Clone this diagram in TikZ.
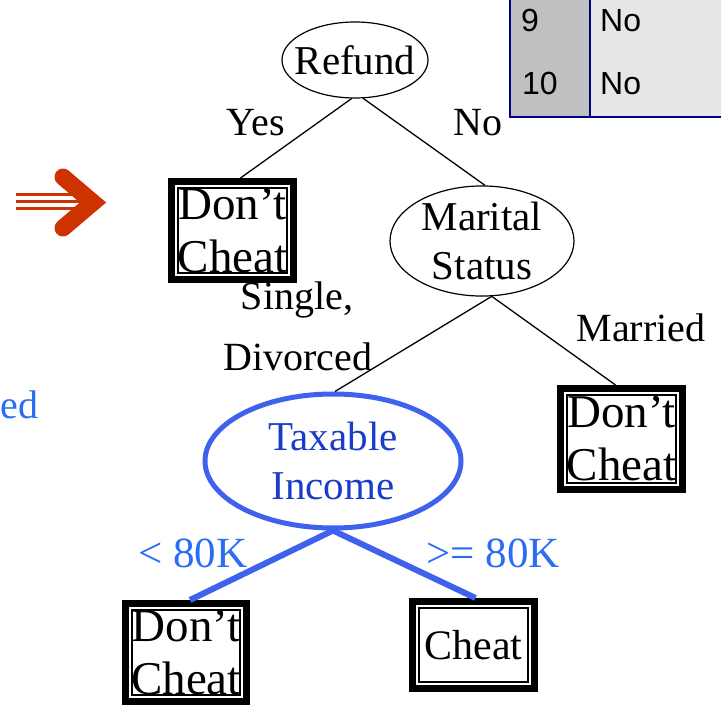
\documentclass[tikz,border=0pt]{standalone}
\usepackage{fontspec}
\setmainfont{Liberation Serif}
\newfontfamily\arialf{Liberation Sans}
\usetikzlibrary{shapes.geometric,calc}
\definecolor{arrowred}{HTML}{CC3300}
\definecolor{ellblue}{HTML}{3F62EE}
\definecolor{txtblue}{HTML}{1A3CC8}
\definecolor{lblblue}{HTML}{2B6CF5}
\definecolor{tabnavy}{HTML}{000080}
\definecolor{tabdark}{HTML}{C0C0C0}
\definecolor{tablight}{HTML}{E6E6E6}
\begin{document}
\begin{tikzpicture}[x=1pt,y=-1pt,
  ell/.style={ellipse, draw, line width=1.2pt, inner sep=0pt, align=center, font=\fontsize{41}{49}\selectfont},
  dbox/.style={rectangle, draw, line width=7pt, inner sep=0pt, align=center, font=\fontsize{47}{53}\selectfont},
  innerline/.style={draw=black, line width=1.2pt},
  lbl/.style={font=\fontsize{40}{48}\selectfont, inner sep=0pt},
  blbl/.style={font=\fontsize{43}{50}\selectfont, inner sep=0pt, text=lblblue},
  conn/.style={line width=1.3pt},
  bconn/.style={line width=6pt, draw=ellblue},
  tabtxt/.style={font=\arialf\fontsize{32}{36}\selectfont, inner sep=0pt, anchor=base west},
]
\useasboundingbox (0,0) rectangle (721,714);
\fill[white] (0,0) rectangle (721,714);

% table fragment
\fill[tabdark] (510,0) rectangle (590,117);
\fill[tablight] (590,0) rectangle (721,117);
\draw[tabnavy, line width=2.5pt] (510,0) -- (510,117) -- (721,117);
\draw[tabnavy, line width=2pt] (590,0) -- (590,117);
\node[tabtxt] (r9) at (521,32) {9};
\node[tabtxt] (r9v) at (600,32) {No};
\node[tabtxt] (r10) at (522,95) {10};
\node[tabtxt] (r10v) at (600,95) {No};

% red arrow
\draw[arrowred, line width=2.4pt] (16,194.5) -- (82,194.5);
\draw[arrowred, line width=3.2pt] (16,201.7) -- (82,201.7);
\draw[arrowred, line width=2.7pt] (16,208.7) -- (82,208.7);
\draw[arrowred, line width=17pt, line cap=round, line join=miter] (63,177) -- (93,202.5) -- (63,228);

% blue text fragment at the left edge
\node[blbl, anchor=base west, font=\fontsize{40}{48}\selectfont] (ed) at (0.5,418) {ed};

% nodes
\node[ell, minimum width=146, minimum height=76] (refund) at (355,60) {\makebox[80pt]{Refund}};
\node[ell, minimum width=184, minimum height=104] (marital) at (482,241) {Marital\\Status};
\node[ell, draw=ellblue, line width=5pt, text=txtblue, minimum width=256, minimum height=134] (taxable) at (333,461) {Taxable\\Income};

\node[dbox, minimum width=122, minimum height=98] (dc1) at (232.5,230.5) {Don’t\\Cheat};
\node[dbox, minimum width=122, minimum height=101] (dc2) at (621.5,439) {Don’t\\Cheat};
\node[dbox, minimum width=121, minimum height=98] (dc3) at (186,652.5) {Don’t\\Cheat};
\node[dbox, minimum width=122, minimum height=87, font=\fontsize{42}{50}\selectfont] (dc4) at (473.5,645) {Cheat};

\draw[innerline] ([shift={(10,-10)}]dc1.south west) rectangle ([shift={(-10,10)}]dc1.north east);
\draw[innerline] ([shift={(10,-10)}]dc2.south west) rectangle ([shift={(-10,10)}]dc2.north east);
\draw[innerline] ([shift={(10,-10)}]dc3.south west) rectangle ([shift={(-10,10)}]dc3.north east);
\draw[innerline] ([shift={(10,-10)}]dc4.south west) rectangle ([shift={(-10,10)}]dc4.north east);

% connectors
\draw[conn] (refund.265) -- ($(dc1.north)+(8,0)$);
\draw[conn] (refund.282) -- ($(marital.north)+(3,0)$);
\draw[conn] (marital.280) -- ($(taxable.north)+(2,0)$);
\draw[conn] (marital.280) -- ($(dc2.north)+(-6,0)$);
\draw[bconn] (taxable.south) -- ($(dc3.north)+(4,0)$);
\draw[bconn] (taxable.south) -- ($(dc4.north)+(2,0)$);

% labels
\node[lbl] (yes) at (256,123) {Yes};
\node[lbl] (no) at (478,123) {No};
\node[lbl] (single) at (297,300) {Single,};
\node[lbl] (divorced) at (298,357) {Divorced};
\node[lbl] (married) at (641,328) {Married};
\node[blbl] (lt) at (193,553) {< 80K};
\node[blbl] (ge) at (493,553) {>= 80K};
\end{tikzpicture}
\end{document}
